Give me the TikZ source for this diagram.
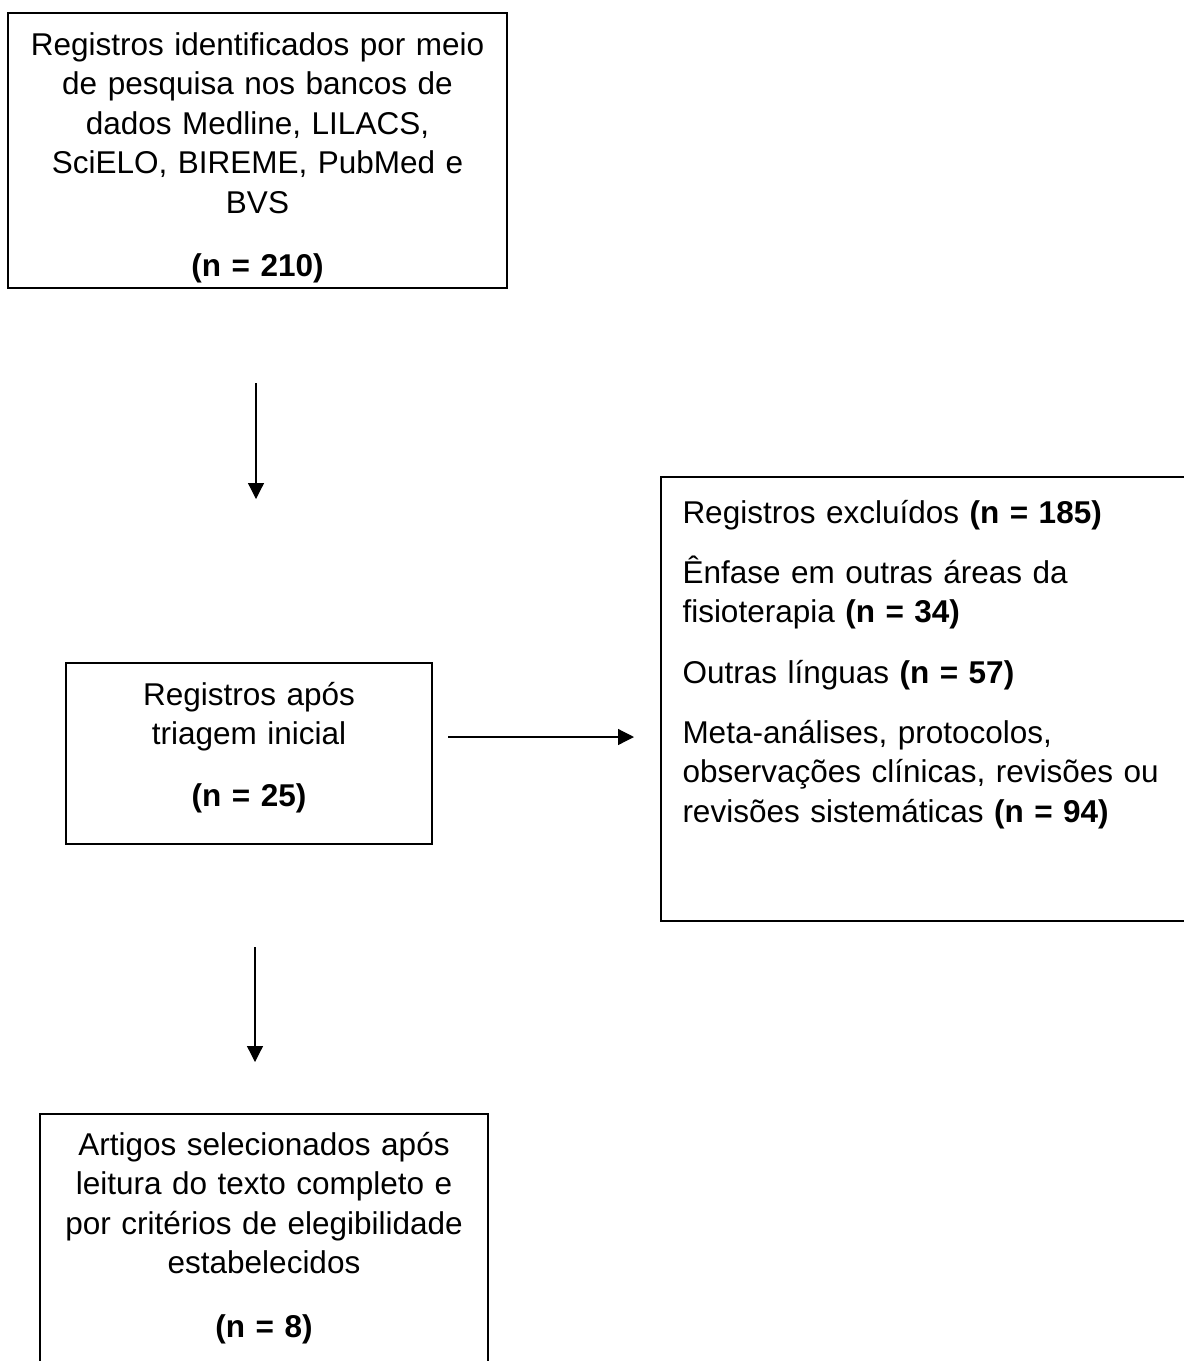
\documentclass[tikz,border=0pt]{standalone}
\usepackage{fontspec}
\setmainfont{Liberation Sans}
\usetikzlibrary{arrows.meta}
\tikzstyle{frame} = [rectangle, draw=black, line width=0.8pt, inner sep=0pt]
\tikzstyle{txt} = [text width=200pt, align=center, inner sep=0pt, anchor=base, font=\fontsize{12.6}{15.8}\selectfont]
\tikzstyle{txtl} = [text width=220pt, align=left, inner sep=0pt, anchor=base west, font=\fontsize{12.6}{15.8}\selectfont]
\tikzstyle{arrow} = [line width=0.5pt,-{Triangle[length=6.4pt,width=6.4pt]}]

\begin{document}
\begin{tikzpicture}[x=0.4pt, y=-0.4pt]
\clip (0,0) rectangle (1184,1361);
%Busca
\node(busca)at(257.5,150.5)[frame, minimum width=199.6pt, minimum height=110pt]{};
\node(buscatxt)at(257.5,55)[txt]{Registros identificados por meio\\de pesquisa nos bancos de\\dados Medline, LILACS,\\SciELO, BIREME, PubMed e\\BVS\\[9.4pt]\textbf{(n = 210)}};

%Triagem
\node(triagem)at(249,753.5)[frame, minimum width=146.4pt, minimum height=72.4pt]{};
\node(triagemtxt)at(249,705)[txt]{Registros após\\triagem inicial\\[9pt]\textbf{(n = 25)}};

%Excluidos
\node(excl)at(930.5,699)[frame, minimum width=215.6pt, minimum height=177.6pt]{};
\node(excltxt)at(682,523)[txtl]{Registros excluídos \textbf{(n = 185)}\\[8.3pt]
    Ênfase em outras áreas da\\fisioterapia \textbf{(n = 34)}\\[8.3pt]
    Outras línguas \textbf{(n = 57)}\\[8.3pt]
    Meta-análises, protocolos,\\observações clínicas, revisões ou\\revisões sistemáticas \textbf{(n = 94)}};

%Artigos
\node(artigos)at(264,1257)[frame, minimum width=179.2pt, minimum height=114.4pt]{};
\node(artigostxt)at(264,1155)[txt]{Artigos selecionados após\\leitura do texto completo e\\por critérios de elegibilidade\\estabelecidos\\[9.6pt]\textbf{(n = 8)}};

%arrows
\coordinate(d1s)at(256,383);
\coordinate(d1e)at(256,499);
\coordinate(hs)at(448,737);
\coordinate(he)at(634,737);
\coordinate(d2s)at(255,947);
\coordinate(d2e)at(255,1062);
\draw[arrow](d1s)--(d1e);
\draw[arrow](hs)--(he);
\draw[arrow](d2s)--(d2e);
\end{tikzpicture}
\end{document}
